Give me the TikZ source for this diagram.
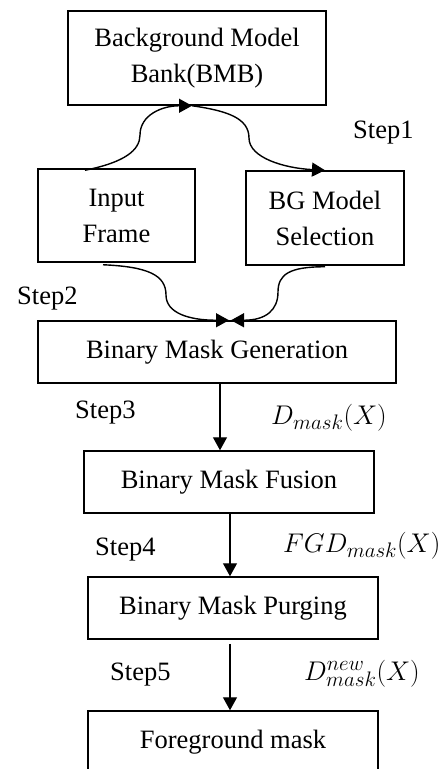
\RequirePackage{fix-cm}
\documentclass[tikz,border=0pt]{standalone}
\usepackage{fontspec}
\setmainfont{Liberation Serif}
\DeclareMathSizes{27}{27}{21}{16}
\usetikzlibrary{arrows.meta}
\begin{document}
\begin{tikzpicture}[x=1pt,y=-1pt,
  box/.style={draw, line width=1.5pt, align=center, inner sep=0pt,
    font=\fontsize{26.5}{36}\selectfont},
  arr/.style={line width=1.4pt, -{Triangle[length=13pt,width=14pt]}},
  lbl/.style={anchor=base west, inner sep=0pt, font=\fontsize{26.5}{32}\selectfont},
  mlbl/.style={anchor=base west, inner sep=0pt, font=\fontsize{27}{32}\selectfont}]
\useasboundingbox (0,0) rectangle (441,769);
\clip (0,0) rectangle (441,769);
% boxes
\node[box, minimum width=258pt, minimum height=94pt] (bmb) at (197,58) {Background Model\\Bank(BMB)};
\node[box, minimum width=157pt, minimum height=93pt] (in) at (116.5,215.5) {Input\\Frame};
\node[box, minimum width=158pt, minimum height=94pt] (bg) at (325,218) {BG Model\\Selection};
\node[box, minimum width=358pt, minimum height=62pt] (bmg) at (217,352) {Binary Mask Generation};
\node[box, minimum width=290pt, minimum height=62pt] (fus) at (229,482) {Binary Mask Fusion};
\node[box, minimum width=290pt, minimum height=62pt] (pur) at (233,608) {Binary Mask Purging};
\node[box, minimum width=290pt, minimum height=62pt] (fg) at (233,742) {Foreground mask};
% via points of the curves
\coordinate (m1) at (140,135);
\coordinate (m2) at (249,138);
\coordinate (m3) at (166,295);
\coordinate (m4) at (278,292);
% curved connectors
\draw[arr] ([xshift=-31.5pt,yshift=-2pt]in.north) .. controls +(40,-8) and +(0,15) .. (m1)
  .. controls +(0,-20) and +(-30,0) .. ([xshift=-5pt]bmb.south);
\draw[arr] ([xshift=-5pt]bmb.south) .. controls +(35,5) and +(0,-20) .. (m2)
  .. controls +(0,20) and +(-40,-2) .. (bg.north);
\draw[arr] ([xshift=-13.5pt,yshift=-2pt]in.south) .. controls +(45,2) and +(0,-20) .. (m3)
  .. controls +(0,18) and +(-40,0) .. ([xshift=12pt]bmg.north);
\draw[arr] ([yshift=-1pt]bg.south) .. controls +(-35,0) and +(0,-18) .. (m4)
  .. controls +(0,18) and +(35,0) .. ([xshift=14pt]bmg.north);
% straight connectors
\draw[arr] ([xshift=3pt]bmg.south) -- ([xshift=3pt]bmg.south |- fus.north);
\draw[arr] ([xshift=1pt]fus.south) -- ([xshift=1pt]fus.south |- pur.north);
\draw[arr] ([xshift=-3pt,yshift=-4pt]pur.south) -- ([xshift=-3pt]pur.south |- fg.north);
% step labels
\node[lbl] (s1) at (353,138) {Step1};
\node[lbl] (s2) at (17,304) {Step2};
\node[lbl] (s3) at (75,418) {Step3};
\node[lbl] (s4) at (95,555) {Step4};
\node[lbl] (s5) at (110,680) {Step5};
% math labels
\node[mlbl] (d1) at (271,424) {$D_{mask}(X)$};
\node[mlbl] (d2) at (283,552) {$FGD_{mask}(X)$};
\node[mlbl] (d3) at (304,680) {$D^{new}_{mask}(X)$};
\end{tikzpicture}
\end{document}
